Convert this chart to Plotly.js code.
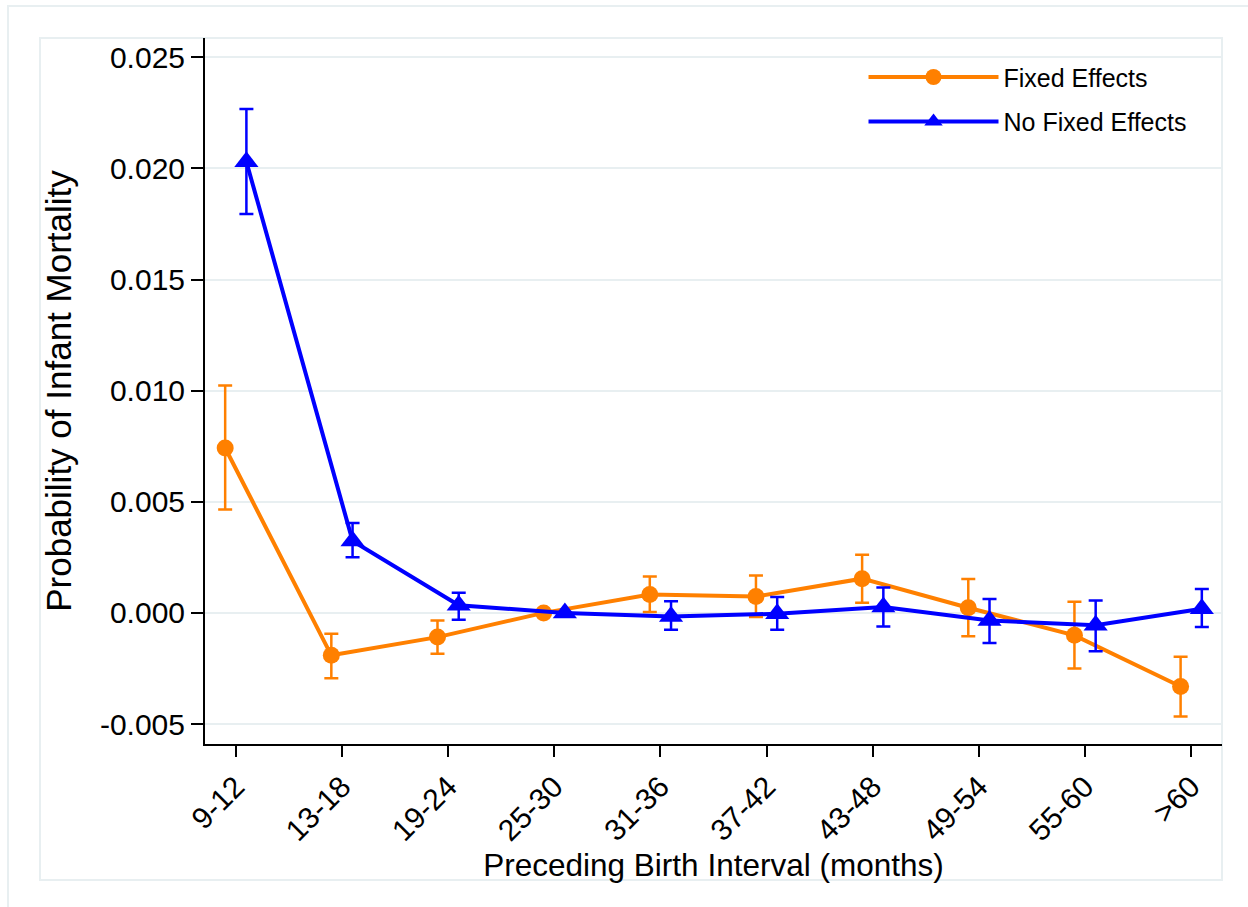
<!DOCTYPE html>
<html>
<head>
<meta charset="utf-8">
<script src="https://cdn.plot.ly/plotly-3.0.1.min.js"></script>
<style>html,body{margin:0;padding:0;background:#fff;}#chart{width:1248px;height:907px;}</style>
</head>
<body>
<div id="chart"></div>
<script>
// ---- data ----
const categories = ['9-12','13-18','19-24','25-30','31-36','37-42','43-48','49-54','55-60','>60'];
const fixedEffects   = [0.00742, -0.00191, -0.00109, 0.0,  0.00083,  0.00074, 0.00154,  0.00023, -0.00101, -0.00331];
const fixedLower     = [0.00465, -0.00294, -0.00184, null, 0.00004, -0.00019, 0.00046, -0.00105, -0.00250, -0.00466];
const fixedUpper     = [0.01023, -0.00094, -0.00034, null, 0.00164,  0.00168, 0.00262,  0.00152,  0.00050, -0.00197];
const noFixedEffects = [0.02030,  0.00324,  0.00034, 0.0, -0.00016, -0.00004, 0.00026, -0.00034, -0.00056,  0.00019];
const noFixedLower   = [0.01795,  0.00250, -0.00031, null, -0.00076, -0.00076, -0.00061, -0.00136, -0.00173, -0.00064];
const noFixedUpper   = [0.02268,  0.00404,  0.00091, null,  0.00052,  0.00071,  0.00114,  0.00062,  0.00056,  0.00107];
const yTickValues = [-0.005, 0, 0.005, 0.010, 0.015, 0.020, 0.025];
const yTickLabels = ['-0.005','0.000','0.005','0.010','0.015','0.020','0.025'];

const idx = categories.map((c, i) => i);
const plus  = (v, hi) => v.map((p, i) => hi[i] === null ? NaN : hi[i] - p);
const minus = (v, lo) => v.map((p, i) => lo[i] === null ? NaN : p - lo[i]);

const ORANGE = '#ff8000', BLUE = '#0000ff', GRID = '#e8eff1';
const FONT = 'Liberation Sans, Arial, Helvetica, sans-serif';

const traces = [
  {
    x: idx.map(i => i - 0.1), y: fixedEffects, name: 'Fixed Effects',
    type: 'scatter', mode: 'lines+markers', legendgroup: 'a',
    line: {color: ORANGE, width: 4},
    marker: {color: ORANGE, size: 17, symbol: 'circle'},
    error_y: {type: 'data', symmetric: false, array: plus(fixedEffects, fixedUpper),
              arrayminus: minus(fixedEffects, fixedLower), color: ORANGE, thickness: 2.5, width: 7}
  },
  {
    x: idx.map(i => i + 0.1), y: noFixedEffects, name: 'No Fixed Effects',
    type: 'scatter', mode: 'lines+markers', legendgroup: 'b',
    line: {color: BLUE, width: 4},
    marker: {color: BLUE, size: 21, symbol: 'triangle-up'},
    error_y: {type: 'data', symmetric: false, array: plus(noFixedEffects, noFixedUpper),
              arrayminus: minus(noFixedEffects, noFixedLower), color: BLUE, thickness: 2.5, width: 7}
  }
];

const layout = {
  width: 1248, height: 907,
  margin: {l: 205, r: 26, t: 38, b: 163},
  paper_bgcolor: '#ffffff', plot_bgcolor: 'rgba(0,0,0,0)',
  font: {family: FONT, color: '#000', size: 30},
  showlegend: true,
  legend: {x: 0.6475, y: 0.977, xanchor: 'left', yanchor: 'top', bgcolor: 'rgba(0,0,0,0)',
           font: {family: FONT, size: 25, color: '#000'}, itemwidth: 130,
           traceorder: 'grouped', tracegroupgap: 9},
  xaxis: {
    range: [-0.29, 9.29], tickmode: 'array', tickvals: idx, ticktext: categories,
    tickangle: -45, ticks: 'outside', ticklen: 11, tickwidth: 2, tickcolor: '#000',
    showline: true, linecolor: '#000', linewidth: 2, showgrid: false, zeroline: false,
    tickfont: {family: FONT, size: 30, color: '#000'},
    title: {text: 'Preceding Birth Interval (months)', font: {family: FONT, size: 31.5, color: '#000'}, standoff: 0}
  },
  yaxis: {
    range: [-0.0059, 0.02587], tickmode: 'array', tickvals: yTickValues, ticktext: yTickLabels,
    ticks: 'outside', ticklen: 12, tickwidth: 2, tickcolor: '#000',
    showline: true, linecolor: '#000', linewidth: 2, showgrid: true, gridcolor: GRID, gridwidth: 2,
    zeroline: false, tickfont: {family: FONT, size: 30, color: '#000'},
    title: {text: 'Probability of Infant Mortality', font: {family: FONT, size: 35, color: '#000'}, standoff: 18}
  },
  shapes: [
    {type: 'rect', xref: 'paper', yref: 'paper', x0: -0.1937, x1: 1.0374, y0: -0.2493, y1: 1.0453,
     line: {color: GRID, width: 2}, fillcolor: 'rgba(0,0,0,0)', layer: 'below'},
    {type: 'rect', xref: 'paper', yref: 'paper', x0: -0.16224, x1: 1.0, y0: -0.19263, y1: 1.0,
     line: {color: GRID, width: 2}, fillcolor: 'rgba(0,0,0,0)', layer: 'below'}
  ]
};

Plotly.newPlot('chart', traces, layout, {displayModeBar: false, staticPlot: true});
</script>
</body>
</html>
